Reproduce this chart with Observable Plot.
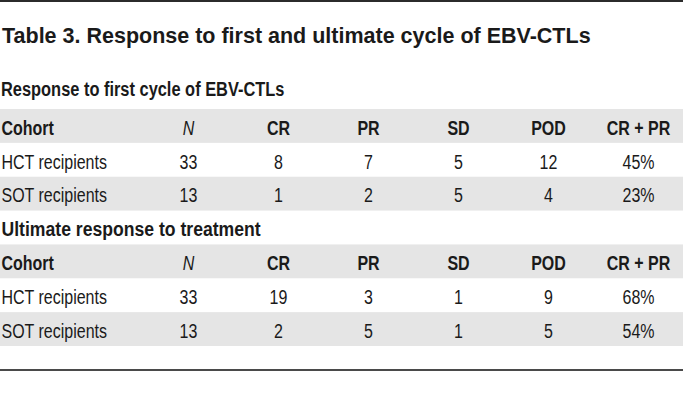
<!DOCTYPE html>
<html><head><meta charset="utf-8">
<script src="https://cdn.jsdelivr.net/npm/d3@7"></script>
<script src="https://cdn.jsdelivr.net/npm/@observablehq/plot@0.6"></script>
<style>
body{margin:0;background:#fff;}
#wrap{position:relative;width:683px;height:420px;overflow:hidden;background:#fff;color:#1a1a1a;}
.topline{position:absolute;left:0;top:0;width:683px;height:0;border-top:2px solid #2b2b2b;}
.title{position:absolute;left:2px;top:24.5px;font-weight:bold;font-size:21.5px;font-family:"Liberation Sans",Arial,sans-serif;white-space:nowrap;line-height:22px;}
.sub{position:absolute;left:1px;top:79px;font-weight:bold;font-size:20px;font-family:"Liberation Sans",Arial,sans-serif;white-space:nowrap;line-height:20px;transform:scaleX(0.82);transform-origin:0 0;}
#chart{position:absolute;left:0;top:100px;}
.bottomline{position:absolute;left:0;top:369px;width:683px;height:0;border-top:2px solid #4a4a4a;}
</style>
</head><body>
<div id="wrap">
  <div class="topline"></div>
  <div class="title" id="title"></div>
  <div class="sub" id="sub1"></div>
  <div id="chart"></div>
  <div class="bottomline"></div>
</div>
<script>
const tableTitle = "Table 3. Response to first and ultimate cycle of EBV-CTLs";
const sections = ["Response to first cycle of EBV-CTLs", "Ultimate response to treatment"];
const columns = ["N", "CR", "PR", "SD", "POD", "CR + PR"];
const cohortHeader = "Cohort";
const cohorts = ["HCT recipients", "SOT recipients"];

// Response to first cycle
const firstN = [33, 13];
const firstCR = [8, 1];
const firstPR = [7, 2];
const firstSD = [5, 5];
const firstPOD = [12, 4];
const firstCRPR = ["45%", "23%"];

// Ultimate response
const ultN = [33, 13];
const ultCR = [19, 2];
const ultPR = [3, 5];
const ultSD = [1, 1];
const ultPOD = [9, 5];
const ultCRPR = ["68%", "54%"];

const rowKeys = ["h1", "hct1", "sot1", "s2", "h2", "hct2", "sot2"];
const grayRows = ["h1", "sot1", "h2", "sot2"];
const headerRows = ["h1", "h2"];

document.getElementById("title").textContent = tableTitle;
document.getElementById("sub1").textContent = sections[0];

const sectionData = [
  {rows: ["hct1", "sot1"], vals: [firstN, firstCR, firstPR, firstSD, firstPOD, firstCRPR]},
  {rows: ["hct2", "sot2"], vals: [ultN, ultCR, ultPR, ultSD, ultPOD, ultCRPR]}
];

const cohortCells = [];
const valueCells = [];
for (const s of sectionData) {
  s.rows.forEach((row, i) => {
    cohortCells.push({row, label: cohorts[i]});
    columns.forEach((col, j) => valueCells.push({row, col, value: String(s.vals[j][i])}));
  });
}
const headerCells = [];
for (const row of headerRows) for (const col of columns) headerCells.push({row, col});

const FF = '"Liberation Sans",Arial,sans-serif';
const ink = "#1a1a1a";
const common = {fontSize: 19.5, fill: ink, dy: 2, fontFamily: FF};

const chart = Plot.plot({
  width: 683,
  height: 269,
  marginTop: 9,
  marginBottom: 23,
  marginLeft: 0,
  marginRight: 0,
  style: {fontFamily: FF, fontSize: "19.5px", background: "transparent", overflow: "visible"},
  x: {type: "point", domain: columns, padding: 0, insetLeft: 188, insetRight: 45, axis: null},
  y: {type: "band", domain: rowKeys, padding: 0, round: false, axis: null},
  marks: [
    Plot.cell(grayRows, {y: d => d, fill: "#e5e5e5"}),
    Plot.text(headerRows, {y: d => d, text: () => cohortHeader, frameAnchor: "left", textAnchor: "start", dx: 1, fontWeight: "bold", ...common}),
    Plot.text(headerCells.filter(d => d.col !== "N"), {x: "col", y: "row", text: "col", fontWeight: "bold", ...common}),
    Plot.text(headerCells.filter(d => d.col === "N"), {x: "col", y: "row", text: "col", fontStyle: "italic", ...common}),
    Plot.text(["s2"], {y: d => d, text: () => sections[1], frameAnchor: "left", textAnchor: "start", dx: 1, fontWeight: "bold", ...common, fontSize: 20}),
    Plot.text(cohortCells, {y: "row", text: "label", frameAnchor: "left", textAnchor: "start", dx: 1, ...common}),
    Plot.text(valueCells, {x: "col", y: "row", text: "value", ...common})
  ]
});
document.getElementById("chart").append(chart);

// emulate the condensed typeface of the reference
for (const t of chart.querySelectorAll("text")) {
  const w = t.getComputedTextLength();
  if (!w) continue;
  const k = t.textContent === sections[1] ? 0.88 : 0.82;
  t.setAttribute("textLength", (w * k).toFixed(2));
  t.setAttribute("lengthAdjust", "spacingAndGlyphs");
}
</script>
</body></html>
